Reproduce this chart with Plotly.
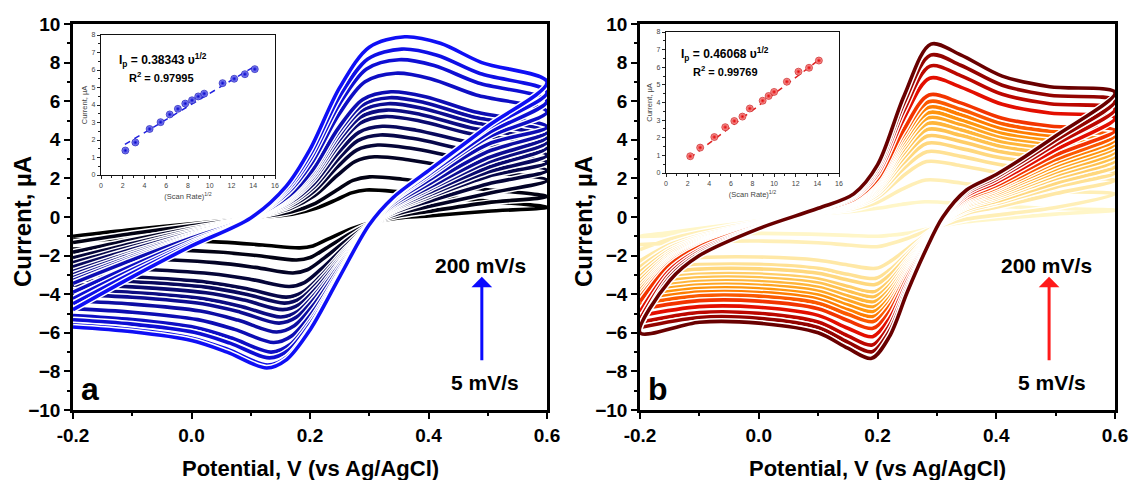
import plotly.graph_objects as go

# ---------------- Panel a (black -> blue), 5 ... 200 mV/s ----------------
A_IPA = [1.40, 2.08, 3.12, 3.73, 4.25, 4.70, 5.20, 5.54, 5.87, 6.18, 6.49, 7.45, 8.15, 8.70, 9.34]
A_IPC = [-1.6, -2.23, -2.9, -3.6, -4.15, -4.46, -4.8, -5.18, -5.5, -5.96, -6.5, -7.0, -7.3, -7.67, -7.82]

# outermost (200 mV/s) and innermost (5 mV/s) voltammograms
A_FWD_V_FAST = [-0.2, -0.1, 0.0, 0.1, 0.16, 0.2, 0.25, 0.3, 0.36, 0.42, 0.49, 0.6]
A_FWD_I_FAST = [-4.8, -3.1, -1.5, -0.05, 1.6, 3.5, 6.7, 8.8, 9.34, 9.0, 8.0, 7.0]
A_FWD_V_SLOW = [-0.2, -0.1, 0.0, 0.1, 0.17, 0.21, 0.245, 0.27, 0.295, 0.35, 0.45, 0.6]
A_FWD_I_SLOW = [-1.0, -0.65, -0.35, -0.05, 0.15, 0.45, 0.9, 1.25, 1.4, 1.3, 0.95, 0.5]
A_REV_V_FAST = [0.6, 0.5, 0.4, 0.34, 0.3, 0.25, 0.2, 0.16, 0.127, 0.06, 0.0, -0.1, -0.2]
A_REV_I_FAST = [7.0, 4.7, 2.4, 1.0, -0.4, -3.1, -5.85, -7.4, -7.82, -7.0, -6.4, -5.95, -5.7]
A_REV_V_SLOW = [0.6, 0.5, 0.4, 0.35, 0.31, 0.27, 0.23, 0.205, 0.183, 0.12, 0.05, -0.1, -0.2]
A_REV_I_SLOW = [0.5, 0.3, 0.05, -0.05, -0.25, -0.6, -1.15, -1.5, -1.6, -1.45, -1.3, -1.15, -1.2]

# ---------------- Panel b (light yellow -> maroon) ----------------
B_IPA = [0.79, 1.92, 2.87, 3.38, 3.82, 4.20, 4.54, 4.85, 5.14, 5.40, 5.68, 5.97, 6.32, 7.19, 7.82, 8.39, 8.96]
B_IPC = [-1.0, -1.54, -2.66, -3.18, -3.5, -3.87, -4.13, -4.39, -4.65, -4.9, -5.16, -5.42, -5.77, -6.2, -6.63, -6.98, -7.32]

B_FWD_V_FAST = [-0.2, -0.15, -0.1, 0.0, 0.1, 0.16, 0.2, 0.245, 0.29, 0.34, 0.41, 0.49, 0.6]
B_FWD_I_FAST = [-6.0, -3.3, -2.0, -0.6, 0.45, 1.2, 2.7, 6.3, 8.96, 8.4, 7.3, 6.75, 6.45]
B_FWD_V_SLOW = [-0.2, -0.15, -0.1, 0.0, 0.1, 0.16, 0.2, 0.24, 0.28, 0.34, 0.41, 0.49, 0.6]
B_FWD_I_SLOW = [-1.0, -0.8, -0.6, -0.2, 0.15, 0.3, 0.45, 0.65, 0.79, 0.7, 0.55, 0.45, 0.35]
B_REV_V_FAST = [0.6, 0.5, 0.4, 0.35, 0.31, 0.28, 0.25, 0.22, 0.19, 0.15, 0.1, 0.0, -0.1, -0.2]
B_REV_I_FAST = [6.45, 4.2, 2.2, 1.4, 0.0, -1.8, -3.9, -6.2, -7.32, -6.8, -6.0, -5.5, -5.45, -6.0]
B_REV_V_SLOW = [0.6, 0.5, 0.4, 0.35, 0.31, 0.28, 0.25, 0.22, 0.2, 0.15, 0.1, 0.0, -0.1, -0.2]
B_REV_I_SLOW = [0.35, 0.15, -0.1, -0.25, -0.45, -0.65, -0.85, -0.95, -1.0, -0.95, -0.9, -0.85, -0.9, -1.0]

# ---------------- Insets ----------------
A_SR = [2.24, 3.16, 4.47, 5.48, 6.32, 7.07, 7.75, 8.37, 8.94, 9.49, 11.18, 12.25, 13.23, 14.14]
A_IP = [1.40, 1.86, 2.63, 3.02, 3.46, 3.78, 4.08, 4.27, 4.49, 4.65, 5.25, 5.50, 5.76, 6.05]
A_FIT_X = [2.2, 14.1]
A_FIT_Y = [1.75, 6.2]
B_SR = [2.24, 3.16, 4.47, 5.48, 6.32, 7.07, 7.75, 8.94, 9.49, 10.0, 11.18, 12.25, 13.23, 14.14]
B_IP = [0.95, 1.44, 2.04, 2.60, 2.95, 3.20, 3.66, 4.10, 4.37, 4.60, 5.18, 5.75, 5.97, 6.38]
B_FIT_X = [2.2, 14.1]
B_FIT_Y = [0.85, 6.4]

X_TICKS = [-0.2, 0.0, 0.2, 0.4, 0.6]
X_TICKTEXT = ["-0.2", "0.0", "0.2", "0.4", "0.6"]
Y_TICKS = [-10, -8, -6, -4, -2, 0, 2, 4, 6, 8, 10]

FONT = "Liberation Sans, Arial, sans-serif"
W, H = 1130, 480


def blend(slow, fast, w):
    return [(1 - w) * s + w * f for s, f in zip(slow, fast)]


def lerp_color(stops, t):
    for k in range(len(stops) - 1):
        t0, c0 = stops[k]
        t1, c1 = stops[k + 1]
        if t <= t1 or k == len(stops) - 2:
            f = 0 if t1 == t0 else min(max((t - t0) / (t1 - t0), 0), 1)
            return "rgb(%d,%d,%d)" % tuple(round(c0[j] + (c1[j] - c0[j]) * f) for j in range(3))


A_STOPS = [(0.0, (0, 0, 0)), (0.5, (12, 12, 130)), (1.0, (15, 15, 245))]
B_STOPS = [(0.0, (255, 246, 200)), (0.2, (255, 224, 145)), (0.4, (255, 190, 70)),
           (0.6, (255, 140, 0)), (0.72, (250, 70, 0)), (0.82, (225, 10, 0)), (1.0, (105, 0, 0))]

fig = go.Figure()


def add_cvs(ipa, ipc, fvs, fis, fvf, fif, rvs, ris, rvf, rif, stops, xa, ya):
    n = len(ipa)
    for i in range(n):
        wa = (ipa[i] - ipa[0]) / (ipa[-1] - ipa[0])
        wc = (ipc[i] - ipc[0]) / (ipc[-1] - ipc[0])
        fv = blend(fvs, fvf, wa)
        fi = blend(fis, fif, wa)
        rv = blend(rvs, rvf, wc)
        ri = blend(ris, rif, wc)
        xs = fv + rv[1:]
        ys = fi + ri[1:]
        col = lerp_color(stops, i / (n - 1))
        fig.add_trace(go.Scatter(x=xs, y=ys, mode="lines", xaxis=xa, yaxis=ya,
                                 line=dict(color="white", width=6.5, shape="spline", smoothing=0.9),
                                 hoverinfo="skip", showlegend=False))
        fig.add_trace(go.Scatter(x=xs, y=ys, mode="lines", xaxis=xa, yaxis=ya,
                                 line=dict(color=col, width=3.6, shape="spline", smoothing=0.9),
                                 showlegend=False))


add_cvs(A_IPA, A_IPC, A_FWD_V_SLOW, A_FWD_I_SLOW, A_FWD_V_FAST, A_FWD_I_FAST,
        A_REV_V_SLOW, A_REV_I_SLOW, A_REV_V_FAST, A_REV_I_FAST, A_STOPS, "x", "y")
add_cvs(B_IPA, B_IPC, B_FWD_V_SLOW, B_FWD_I_SLOW, B_FWD_V_FAST, B_FWD_I_FAST,
        B_REV_V_SLOW, B_REV_I_SLOW, B_REV_V_FAST, B_REV_I_FAST, B_STOPS, "x2", "y2")

# insets
fig.add_trace(go.Scatter(x=A_FIT_X, y=A_FIT_Y, mode="lines", xaxis="x3", yaxis="y3",
                         line=dict(color="#2020e0", width=1.5, dash="6px,5px"), showlegend=False))
fig.add_trace(go.Scatter(x=A_SR, y=A_IP, mode="markers", xaxis="x3", yaxis="y3",
                         marker=dict(size=7, color="#a0a0ff", line=dict(width=0.6, color="#0000aa"),
                                     gradient=dict(type="radial", color="#0000c8")), showlegend=False))
fig.add_trace(go.Scatter(x=B_FIT_X, y=B_FIT_Y, mode="lines", xaxis="x4", yaxis="y4",
                         line=dict(color="#e02020", width=1.5, dash="6px,5px"), showlegend=False))
fig.add_trace(go.Scatter(x=B_SR, y=B_IP, mode="markers", xaxis="x4", yaxis="y4",
                         marker=dict(size=7, color="#ffb8b8", line=dict(width=0.6, color="#c00000"),
                                     gradient=dict(type="radial", color="#e00000")), showlegend=False))

tickfont = dict(family=FONT, size=19, color="black", weight="bold")
y_dom = [(H - 410) / H, (H - 24) / H]


def main_x(dom, anchor):
    return dict(domain=dom, anchor=anchor, range=[-0.2, 0.6], tickvals=X_TICKS, ticktext=X_TICKTEXT,
                showline=True, linecolor="black", linewidth=2.6, mirror=True, automargin=False,
                ticks="outside", ticklen=6, tickwidth=2.4, tickcolor="black",
                minor=dict(ticks="outside", ticklen=3.5, tickwidth=2, tickcolor="black", dtick=0.1),
                showgrid=False, zeroline=False, tickfont=tickfont)


def main_y(anchor):
    return dict(domain=y_dom, anchor=anchor, range=[-10, 10], tickvals=Y_TICKS,
                showline=True, linecolor="black", linewidth=2.6, mirror=True, automargin=False,
                ticks="outside", ticklen=6, tickwidth=2.4, tickcolor="black",
                minor=dict(ticks="outside", ticklen=3.5, tickwidth=2, tickcolor="black", dtick=1),
                showgrid=False, zeroline=False, tickfont=tickfont)


inset_font = dict(family=FONT, size=7, color="#444")


def inset_x(dom, anchor):
    return dict(domain=dom, anchor=anchor, range=[0, 16], dtick=2, showline=True, linecolor="#111",
                linewidth=1.4, mirror=True, ticks="outside", ticklen=3, tickwidth=1, tickcolor="#222",
                minor=dict(ticks="outside", ticklen=1.5, tickwidth=0.8, tickcolor="#222", dtick=1),
                showgrid=False, zeroline=False, tickfont=inset_font, automargin=False,
                title=dict(text="(Scan Rate)<sup>1/2</sup>", font=dict(family=FONT, size=7.5, color="#444"),
                           standoff=6))


def inset_y(dom, anchor):
    return dict(domain=dom, anchor=anchor, range=[0, 8], dtick=1, showline=True, linecolor="#111",
                linewidth=1.4, mirror=True, ticks="outside", ticklen=3, tickwidth=1, tickcolor="#222",
                minor=dict(ticks="outside", ticklen=1.5, tickwidth=0.8, tickcolor="#222", dtick=0.5),
                showgrid=False, zeroline=False, tickfont=inset_font, automargin=False,
                title=dict(text="Current, µA", font=dict(family=FONT, size=7.5, color="#444"), standoff=2))


fig.update_layout(
    width=W, height=H, margin=dict(l=0, r=0, t=0, b=0, autoexpand=False),
    paper_bgcolor="white", plot_bgcolor="white", showlegend=False,
    xaxis=main_x([73 / W, 547 / W], "y"), yaxis=main_y("x"),
    xaxis2=main_x([640 / W, 1115 / W], "y2"), yaxis2=main_y("x2"),
    xaxis3=inset_x([101 / W, 275 / W], "y3"), yaxis3=inset_y([(H - 175) / H, (H - 35) / H], "x3"),
    xaxis4=inset_x([666 / W, 839 / W], "y4"), yaxis4=inset_y([(H - 173) / H, (H - 32) / H], "x4"),
)

ann = []
title_font = dict(family=FONT, size=22, color="black", weight="bold")
for xc in [310, 877]:
    ann.append(dict(text="Potential, V (vs Ag/AgCl)", x=xc / W, y=(H - 468) / H, xref="paper", yref="paper",
                    showarrow=False, font=title_font, xanchor="center", yanchor="middle"))
for xc in [22, 583]:
    ann.append(dict(text="Current, µA", x=xc / W, y=(H - 222) / H, xref="paper", yref="paper",
                    showarrow=False, font=dict(family=FONT, size=24, color="black", weight="bold"),
                    textangle=-90, xanchor="center", yanchor="middle"))

lab_font = dict(family=FONT, size=21, color="black", weight="bold")
for xr, yr, col, x200, x5, xarr in [("x", "y", "#0a0aff", 0.487, 0.495, 0.49),
                                      ("x2", "y2", "#ff1a1a", 0.485, 0.494, 0.489)]:
    ann.append(dict(text="200 mV/s", x=x200, y=-2.5, xref=xr, yref=yr, showarrow=False, font=lab_font,
                    xanchor="center", yanchor="middle"))
    ann.append(dict(text="5 mV/s", x=x5, y=-8.55, xref=xr, yref=yr, showarrow=False, font=lab_font,
                    xanchor="center", yanchor="middle"))
    ann.append(dict(text="", x=xarr, y=-3.1, ax=xarr, ay=-7.5, xref=xr, yref=yr, axref=xr, ayref=yr,
                    showarrow=True, arrowhead=1, arrowsize=1.15, arrowwidth=3, arrowcolor=col))
ann.append(dict(text="a", x=-0.19, y=-8.9, xref="x", yref="y", xanchor="left", yanchor="middle",
                showarrow=False, font=dict(family=FONT, size=32, color="black", weight="bold")))
ann.append(dict(text="b", x=-0.19, y=-8.9, xref="x2", yref="y2", xanchor="left", yanchor="middle",
                showarrow=False, font=dict(family=FONT, size=32, color="black", weight="bold")))

eq_font = dict(family=FONT, size=12, color="black", weight="bold")
r_font = dict(family=FONT, size=11, color="black", weight="bold")
for txt, xc, yc, f in [("I<sub>p</sub> = 0.38343 υ<sup>1/2</sup>", 163, 60, eq_font),
                       ("R<sup>2</sup> = 0.97995", 161, 77, r_font),
                       ("I<sub>p</sub> = 0.46068 υ<sup>1/2</sup>", 725, 54, eq_font),
                       ("R<sup>2</sup> = 0.99769", 725, 71, r_font)]:
    ann.append(dict(text=txt, x=xc / W, y=(H - yc) / H, xref="paper", yref="paper", showarrow=False,
                    font=f, xanchor="center", yanchor="middle"))

fig.update_layout(annotations=ann)
fig.write_html("out.html")
